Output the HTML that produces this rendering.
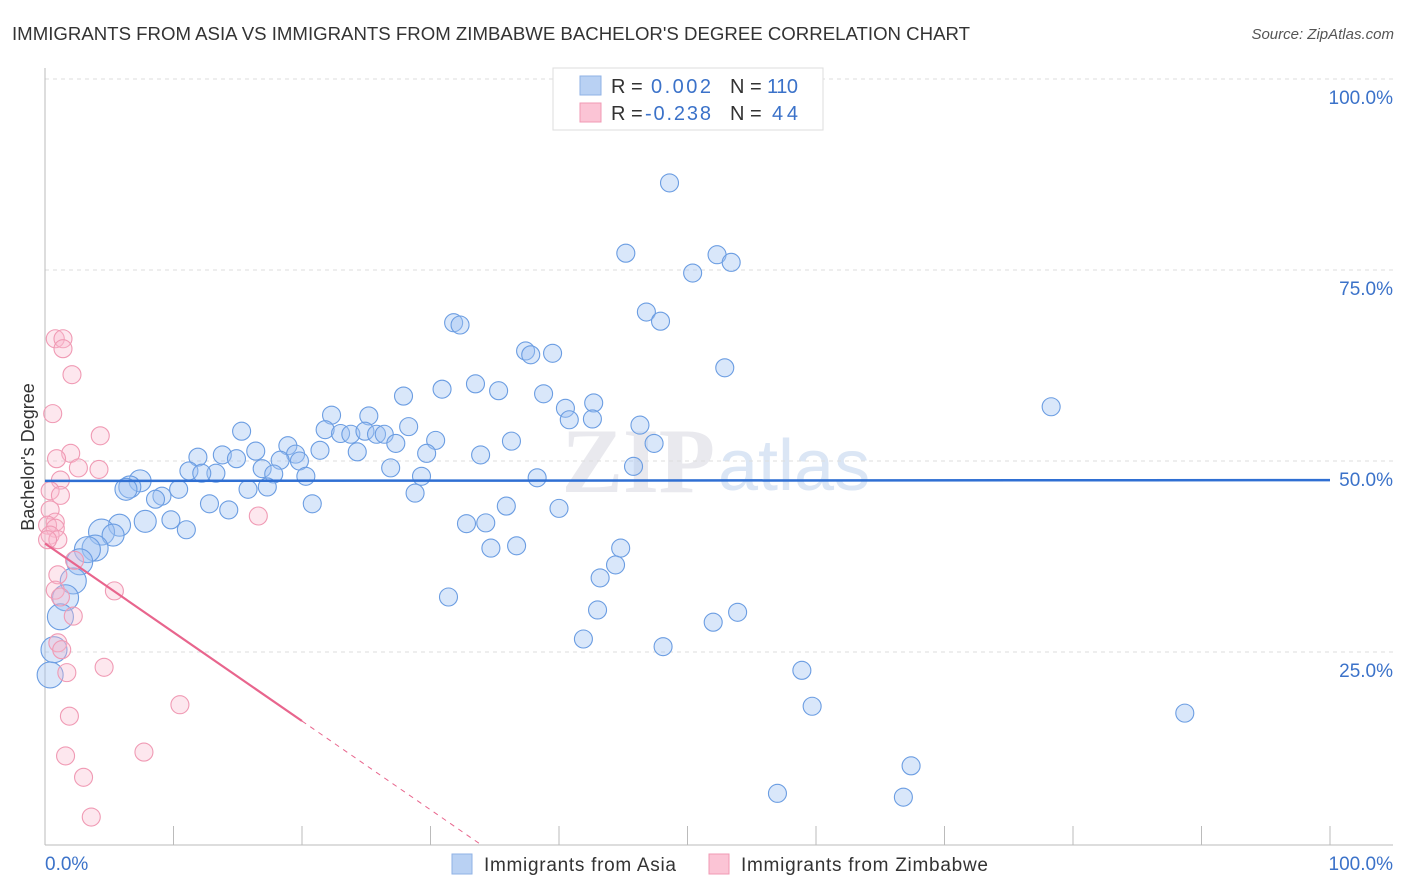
<!DOCTYPE html>
<html><head><meta charset="utf-8"><style>
body{margin:0;background:#fff;font-family:"Liberation Sans",sans-serif;}
#wrap{position:relative;width:1406px;height:892px;overflow:hidden;}
</style></head><body>
<div id="wrap">
<svg id="svg" width="1406" height="892" xmlns="http://www.w3.org/2000/svg">
<text x="12" y="40" font-size="18" fill="#333" textLength="958" lengthAdjust="spacingAndGlyphs">IMMIGRANTS FROM ASIA VS IMMIGRANTS FROM ZIMBABWE BACHELOR'S DEGREE CORRELATION CHART</text>
<text x="1394" y="39" font-size="15" fill="#555" font-style="italic" text-anchor="end">Source: ZipAtlas.com</text>
<text x="715" y="492" font-size="92" fill="#e9e9ee" text-anchor="end" font-family="Liberation Serif" font-weight="bold">ZIP</text>
<text x="718" y="490" font-size="72" fill="#dbe6f5">atlas</text>
<text x="34" y="457" font-size="18" fill="#333" text-anchor="middle" transform="rotate(-90 34 457)">Bachelor's Degree</text>
<g id="grid"></g><g id="marks"></g>
<g>
<rect x="553" y="68" width="270" height="62" fill="#fff" stroke="#ddd"/>
<rect x="580" y="76" width="21" height="19" fill="#b9d1f3" stroke="#8fb2e6"/>
<rect x="580" y="103" width="21" height="19" fill="#fbc4d5" stroke="#f09ab4"/>
<text x="611" y="93" font-size="20" fill="#333">R = </text><text x="651" y="93" font-size="20" fill="#3b72c9" textLength="60">0.002</text>
<text x="730" y="93" font-size="20" fill="#333">N = </text><text x="767" y="93" font-size="20" fill="#3b72c9" textLength="31">110</text>
<text x="611" y="120" font-size="20" fill="#333">R = </text><text x="645" y="120" font-size="20" fill="#3b72c9" textLength="66">-0.238</text>
<text x="730" y="120" font-size="20" fill="#333">N = </text><text x="772" y="120" font-size="20" fill="#3b72c9" textLength="26">44</text>
</g>
<g>
<rect x="452" y="854" width="20" height="20" fill="#b9d1f3" stroke="#8fb2e6"/>
<text x="484" y="871" font-size="19" fill="#333" textLength="192">Immigrants from Asia</text>
<rect x="709" y="854" width="20" height="20" fill="#fbc4d5" stroke="#f09ab4"/>
<text x="741" y="871" font-size="19" fill="#333" textLength="247">Immigrants from Zimbabwe</text>
</g>
</svg></div>
<script>
const yTicks=[25,50,75,100];
const yTickLabels=["25.0%","50.0%","75.0%","100.0%"];
const asiaX=[48.6,45.2,52.3,53.4,50.4,46.8,47.9,31.8,32.3,37.4,37.8,39.5,52.9,33.5,30.9,35.3,27.9,38.8,78.3,42.7,40.5,22.3,25.2,42.6,40.8,46.3,21.8,23.0,23.8,24.9,25.8,26.4,28.3,15.3,30.4,36.3,47.4,27.3,18.9,21.4,24.3,16.4,13.8,11.9,19.5,14.9,18.3,19.8,29.7,33.9,45.8,11.2,16.9,26.9,13.3,12.2,17.8,20.3,29.3,38.3,7.4,6.6,6.3,10.4,15.8,17.3,28.8,9.1,8.6,12.8,14.3,20.8,35.9,40.0,7.8,9.8,5.8,32.8,34.3,4.4,5.3,11.0,3.9,3.3,34.7,36.7,44.8,2.7,44.4,43.2,2.2,1.6,31.4,43.0,53.9,1.2,52.0,41.9,0.7,48.1,58.9,0.4,59.7,88.7,67.4,57.0,66.8];
const asiaY=[86.4,77.2,77.0,76.0,74.6,69.5,68.3,68.1,67.8,64.4,63.9,64.1,62.2,60.1,59.4,59.2,58.5,58.8,57.1,57.6,56.9,56.0,55.9,55.5,55.4,54.7,54.1,53.6,53.5,53.9,53.5,53.5,54.5,53.9,52.7,52.6,52.3,52.3,52.0,51.4,51.2,51.3,50.8,50.5,50.9,50.3,50.1,50.0,51.0,50.8,49.3,48.7,49.0,49.1,48.4,48.4,48.3,48.0,48.0,47.8,47.4,46.6,46.3,46.3,46.3,46.6,45.8,45.4,45.0,44.4,43.6,44.4,44.1,43.8,42.1,42.3,41.6,41.8,41.9,40.7,40.3,41.0,38.6,38.4,38.6,38.9,38.6,36.8,36.4,34.7,34.3,32.1,32.2,30.5,30.2,29.6,28.9,26.7,25.3,25.7,22.6,22.0,17.9,17.0,10.1,6.5,6.0];
const zimX=[0.8,1.4,1.4,2.1,0.6,4.3,2.0,0.9,4.2,2.6,1.2,0.4,1.2,0.4,16.6,0.8,0.2,0.8,0.4,1.0,0.2,2.3,1.0,5.4,0.8,1.2,2.2,1.0,1.3,4.6,1.7,10.5,1.9,1.6,7.7,3.0,3.6];
const zimY=[66.0,66.0,64.7,61.3,56.2,53.3,51.0,50.3,48.9,49.1,47.5,46.1,45.5,43.6,42.8,42.0,41.6,41.2,40.3,39.7,39.7,37.0,35.1,33.0,33.1,32.2,29.7,26.2,25.3,23.0,22.3,18.1,16.6,11.4,11.9,8.6,3.4];
const asiaTrend=[47.4,47.5];
const zimTrend=[39.2,-0.3];
const X0=45,X1=1330,Y0=843,Y100=79;
const sx=v=>X0+(X1-X0)*v/100, sy=v=>Y0-(Y0-Y100)*v/100;
const NS="http://www.w3.org/2000/svg";
function mk(t,a,p){const e=document.createElementNS(NS,t);for(const k in a)e.setAttribute(k,a[k]);p.appendChild(e);return e;}
const grid=document.getElementById('grid'),marks=document.getElementById('marks');
yTicks.forEach((t,i)=>{
 const l=mk('line',{x1:X0,x2:1393,y1:sy(t),y2:sy(t),stroke:'#ddd','stroke-dasharray':'4,4'},grid);
 
 
 const tx=mk('text',{x:1393,y:sy(t)+25,'font-size':19,fill:'#3b72c9','text-anchor':'end'},grid);tx.textContent=yTickLabels[i];
 
 
});
mk('line',{x1:X0,x2:X0,y1:68,y2:845,stroke:'#bbb'},grid);
mk('line',{x1:X0,x2:1393,y1:845,y2:845,stroke:'#bbb'},grid);
for(let i=1;i<=10;i++){mk('line',{x1:sx(i*10),x2:sx(i*10),y1:826,y2:845,stroke:'#bbb'},grid);}
const xl0=mk('text',{x:45,y:870,'font-size':19,fill:'#3b72c9'},grid);xl0.textContent='0.0%';


const xl1=mk('text',{x:1393,y:870,'font-size':19,fill:'#3b72c9','text-anchor':'end'},grid);xl1.textContent='100.0%';


asiaX.forEach((x,i)=>{
 const r=x<5?13:(x<8?11:9);
 const c=mk('circle',{cx:sx(x),cy:sy(asiaY[i]),r:r,fill:'rgba(160,196,242,0.4)',stroke:'#6b9de2','stroke-width':1.1},marks);
 
 
});
zimX.forEach((x,i)=>{
 const c=mk('circle',{cx:sx(x),cy:sy(zimY[i]),r:9,fill:'rgba(248,185,205,0.35)',stroke:'#f09ab4','stroke-width':1.1},marks);
 
 
});
const at=mk('line',{x1:sx(0),x2:sx(100),y1:sy(asiaTrend[0]),y2:sy(asiaTrend[1]),stroke:'#2f6fd3','stroke-width':2.5},marks);


const zy=x=>zimTrend[0]+(zimTrend[1]-zimTrend[0])*x/34;
const zt=mk('line',{x1:sx(0),x2:sx(20),y1:sy(zy(0)),y2:sy(zy(20)),stroke:'#e8658d','stroke-width':2.2},marks);


const zd=mk('line',{x1:sx(20),x2:sx(34),y1:sy(zy(20)),y2:sy(zy(34)),stroke:'#e8658d','stroke-width':1,'stroke-dasharray':'5,5'},marks);


</script>
</body></html>
